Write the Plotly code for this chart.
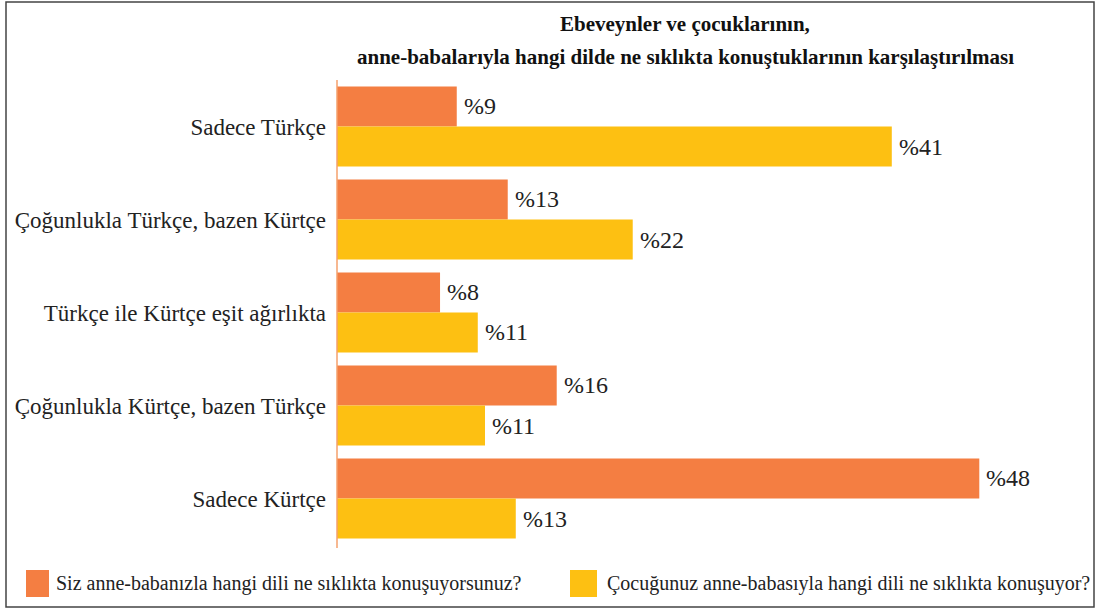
import plotly.graph_objects as go

categories = ["Sadece Türkçe", "Çoğunlukla Türkçe, bazen Kürtçe", "Türkçe ile Kürtçe eşit ağırlıkta",
              "Çoğunlukla Kürtçe, bazen Türkçe", "Sadece Kürtçe"]
# bar lengths (percent)
parents = [8.95, 12.76, 7.70, 16.42, 48.0]
children = [41.46, 22.1, 10.52, 11.06, 13.36]
# printed labels
parent_labels = ["%9", "%13", "%8", "%16", "%48"]
child_labels = ["%41", "%22", "%11", "%11", "%13"]
series_names = ["Siz anne-babanızla hangi dili ne sıklıkta konuşuyorsunuz?",
                "Çocuğunuz anne-babasıyla hangi dili ne sıklıkta konuşuyor?"]
colors = ["#F47E42", "#FDC012"]
title_lines = ["Ebeveynler ve çocuklarının,",
               "anne-babalarıyla hangi dilde ne sıklıkta konuştuklarının karşılaştırılması"]

FONT = "Liberation Serif"
W, H = 1096, 610
L, R, T, B = 337, 16, 80, 65
pw, ph = W - L - R, H - T - B
SCALE = 642.3 / 48.0  # px per percent

def px(p):
    return (p - L) / pw

def py(q):
    return (H - B - q) / ph

fig = go.Figure()
for name, vals, col in zip(series_names, [parents, children], colors):
    fig.add_trace(go.Bar(y=categories, x=vals, name=name, orientation="h",
                         marker=dict(color=col, line=dict(width=0)),
                         showlegend=False))

annotations = []
offsets = [-0.225, 0.215]
for si, (vals, labs) in enumerate([(parents, parent_labels), (children, child_labels)]):
    for ci, (v, lab) in enumerate(zip(vals, labs)):
        annotations.append(dict(x=v, y=ci + offsets[si], xref="x", yref="y",
                                text=lab, showarrow=False, xanchor="left", yanchor="middle",
                                xshift=5, font=dict(family=FONT, size=24, color="#222")))

for line, q in zip(title_lines, [24, 57]):
    annotations.append(dict(x=px(685), y=py(q), xref="paper", yref="paper",
                            text="<b>" + line + "</b>", showarrow=False,
                            xanchor="center", yanchor="middle",
                            font=dict(family=FONT, size=21, color="#111")))

shapes = [dict(type="rect", xref="paper", yref="paper", x0=px(6), x1=px(1094),
               y0=py(607), y1=py(2), line=dict(color="#444", width=1.5), fillcolor="rgba(0,0,0,0)"),
          dict(type="line", xref="paper", yref="paper", x0=px(337), x1=px(337),
               y0=py(548), y1=py(80), line=dict(color="#F5A06C", width=1.5))]

leg_sq = [(26, 49), (570, 597)]
leg_txt = [54, 605]
for i, (name, col) in enumerate(zip(series_names, colors)):
    shapes.append(dict(type="rect", xref="paper", yref="paper", x0=px(leg_sq[i][0]), x1=px(leg_sq[i][1]),
                       y0=py(597), y1=py(570), fillcolor=col, line=dict(width=0)))
    annotations.append(dict(x=px(leg_txt[i]), y=py(583), xref="paper", yref="paper",
                            text=name, showarrow=False, xanchor="left", yanchor="middle",
                            font=dict(family=FONT, size=20, color="#222")))

fig.update_layout(
    width=W, height=H, margin=dict(l=L, r=R, t=T, b=B),
    paper_bgcolor="white", plot_bgcolor="white",
    barmode="group", bargap=0.14, bargroupgap=0,
    xaxis=dict(range=[0, pw / SCALE], visible=False, showgrid=False, zeroline=False),
    yaxis=dict(autorange="reversed", showgrid=False, zeroline=False, showline=False,
               ticks="", ticklabelstandoff=10,
               tickfont=dict(family=FONT, size=23, color="#222")),
    annotations=annotations, shapes=shapes,
)

fig.write_html("out.html", config={"displayModeBar": False},
               post_script="document.body.style.margin='0';document.body.style.overflow='hidden';")
